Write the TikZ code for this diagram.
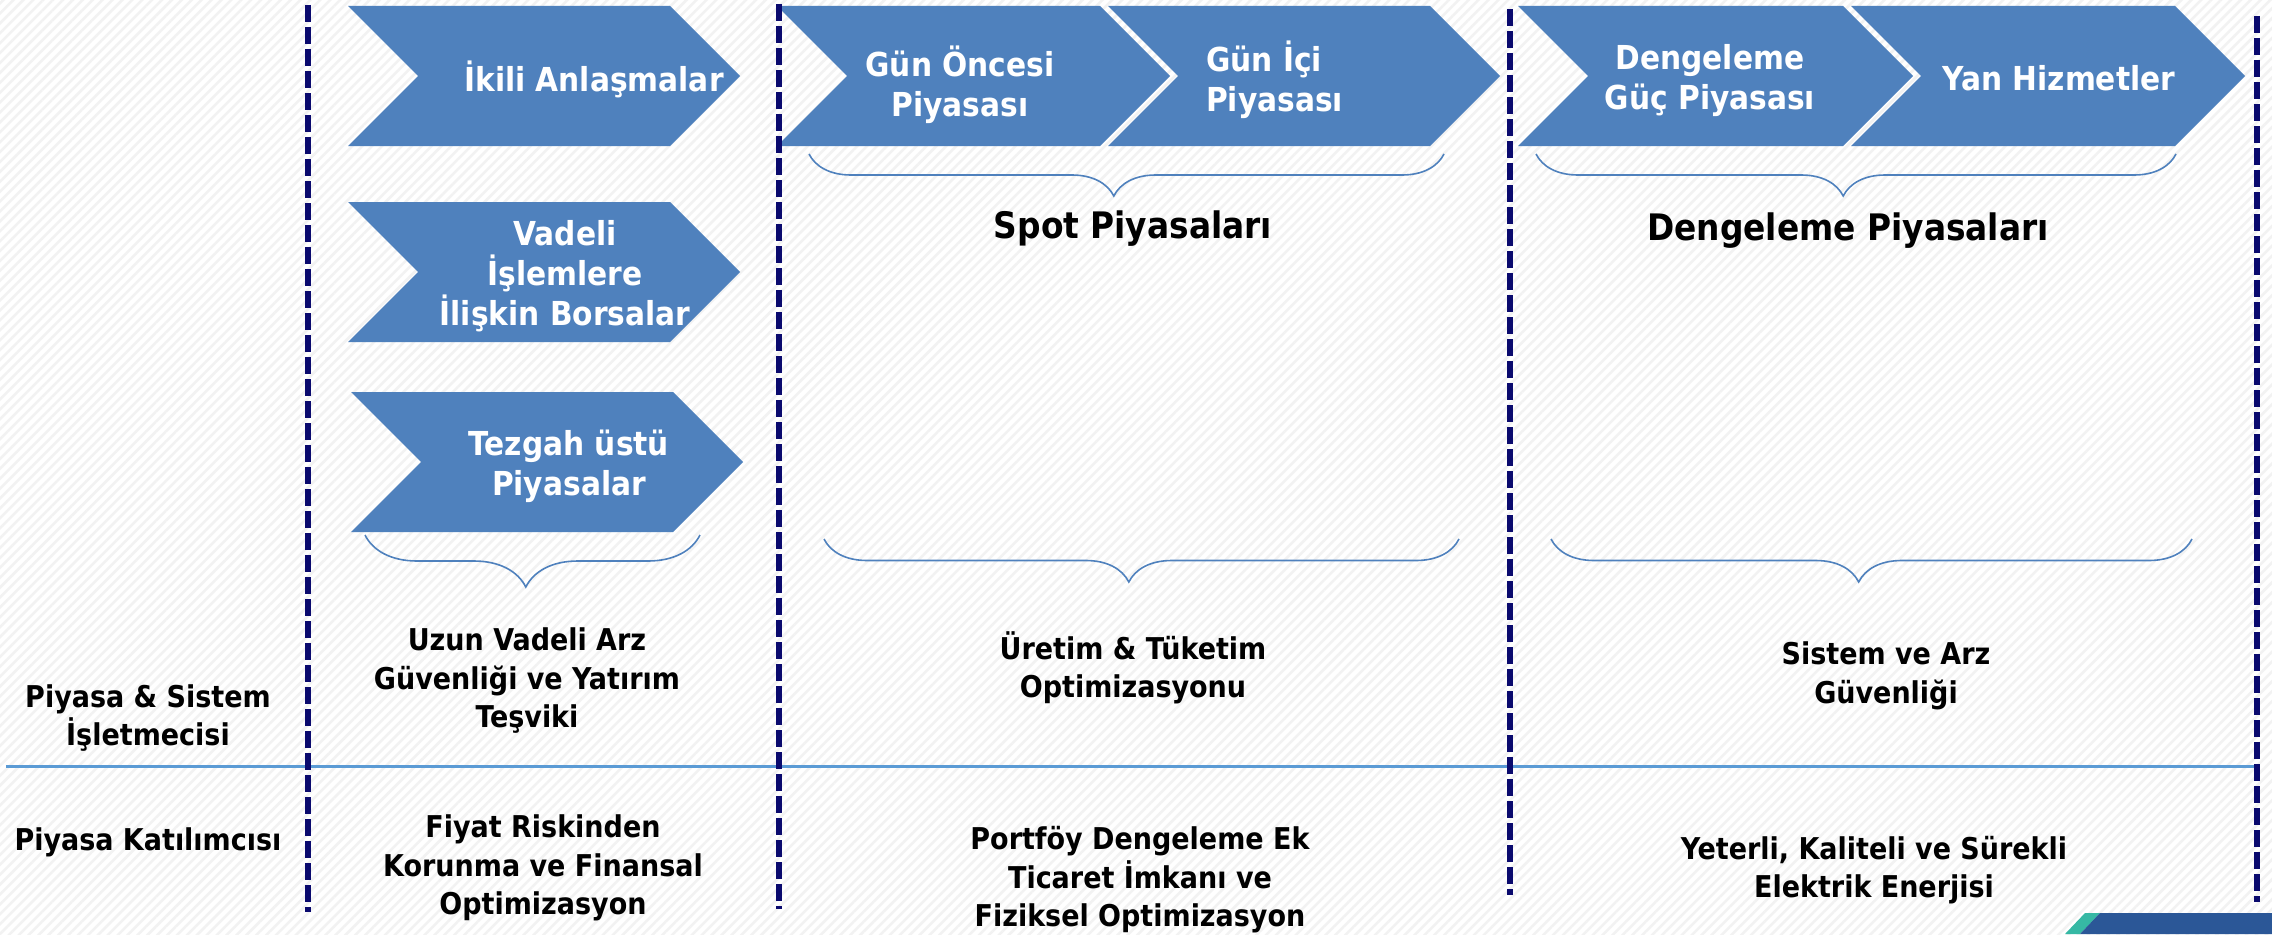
\documentclass[tikz,border=0pt]{standalone}
\usepackage{fontspec}
\setmainfont{DejaVu Sans Condensed}
\usetikzlibrary{decorations.pathreplacing,patterns.meta}

\definecolor{chevblue}{HTML}{4F81BD}
\definecolor{navyline}{HTML}{0A0A6E}
\definecolor{rowline}{HTML}{5B9BD5}
\definecolor{cornerteal}{HTML}{36B8A4}
\definecolor{cornerblue}{HTML}{2B5797}

\tikzset{
  chev/.style={fill=chevblue},
  chevtext/.style={text=white, font=\bfseries\fontsize{33}{40}\selectfont, align=center, inner sep=0pt},
  goaltext/.style={font=\bfseries\fontsize{30}{38.5}\selectfont, align=center, inner sep=0pt},
  headtext/.style={font=\bfseries\fontsize{36.5}{44}\selectfont, inner sep=0pt},
  divider/.style={navyline, line width=6pt, dash pattern=on 17pt off 5pt},
  curly/.style={draw=chevblue, line width=1.6pt, decorate, decoration={brace, mirror, amplitude=#1, aspect=0.48}},
}

\begin{document}
\begin{tikzpicture}[x=1pt, y=-1pt]
\useasboundingbox (0,0) rectangle (2272,934);
\fill[white] (0,0) rectangle (2272,934);
\pattern[pattern={Lines[angle=45, distance=7pt, line width=2.5pt]}, pattern color=black!5] (0,0) rectangle (2272,934);

\fill[chev] (348,6) -- ++(322,0) -- ++(70,70) -- ++(-70,70) -- ++(-322,0) -- ++(70,-70) -- cycle;
\fill[chev] (348,202) -- ++(322,0) -- ++(70,70) -- ++(-70,70) -- ++(-322,0) -- ++(70,-70) -- cycle;
\fill[chev] (351,392) -- ++(322,0) -- ++(70,70) -- ++(-70,70) -- ++(-322,0) -- ++(70,-70) -- cycle;
\fill[chev] (777,6) -- ++(323,0) -- ++(70,70) -- ++(-70,70) -- ++(-323,0) -- ++(70,-70) -- cycle;
\fill[chev] (1108,6) -- ++(322,0) -- ++(70,70) -- ++(-70,70) -- ++(-322,0) -- ++(70,-70) -- cycle;
\fill[chev] (1518,6) -- ++(325,0) -- ++(70,70) -- ++(-70,70) -- ++(-325,0) -- ++(70,-70) -- cycle;
\fill[chev] (1851,6) -- ++(324,0) -- ++(70,70) -- ++(-70,70) -- ++(-324,0) -- ++(70,-70) -- cycle;

\node[chevtext] (ikili) at (594,79) {İkili Anlaşmalar};
\node[chevtext] (vadeli) at (565,276) {Vadeli\\İşlemlere\\İlişkin Borsalar};
\node[chevtext] (tezgah) at (569,466) {Tezgah üstü\\Piyasalar};
\node[chevtext] (gunoncesi) at (960,85) {Gün Öncesi\\Piyasası};
\node[chevtext, align=left, anchor=west] (gunici) at (1206,80) {Gün İçi\\Piyasası};
\node[chevtext] (dengguc) at (1710,81) {Dengeleme\\Güç Piyasası};
\node[chevtext] (yan) at (2059,78) {Yan Hizmetler};

\draw[curly=42] (809,154) -- (1444,154);
\draw[curly=42] (1536,154) -- (2176,154);
\draw[curly=52] (365,535) -- (700,535);
\draw[curly=43] (824,539) -- (1459,539);
\draw[curly=43] (1551,539) -- (2192,539);

\node[headtext] (spot) at (1133,229) {Spot Piyasaları};
\node[headtext] (dengeleme) at (1848,231) {Dengeleme Piyasaları};

\node[goaltext] (uzun) at (527,681) {Uzun Vadeli Arz\\Güvenliği ve Yatırım\\Teşviki};
\node[goaltext] (uretim) at (1133,668) {Üretim \& Tüketim\\Optimizasyonu};
\node[goaltext] (sistem) at (1886,676) {Sistem ve Arz\\Güvenliği};
\node[goaltext] (operator) at (148,718) {Piyasa \& Sistem\\İşletmecisi};

\node[goaltext] (katilimci) at (148,842) {Piyasa Katılımcısı};
\node[goaltext] (fiyat) at (543,868) {Fiyat Riskinden\\Korunma ve Finansal\\Optimizasyon};
\node[goaltext] (portfoy) at (1140,880) {Portföy Dengeleme Ek\\Ticaret İmkanı ve\\Fiziksel Optimizasyon};
\node[goaltext] (yeterli) at (1874,870) {Yeterli, Kaliteli ve Sürekli\\Elektrik Enerjisi};

\draw[rowline, line width=3pt] (6,766) -- (2257,766);

\draw[divider] (308,5) -- (308,912);
\draw[divider] (779,4) -- (779,909);
\draw[divider] (1510,9) -- (1510,895);
\draw[divider] (2257,16) -- (2257,902);

\fill[cornerteal] (2085,913) -- (2100,913) -- (2080,934) -- (2065,934) -- cycle;
\fill[cornerblue] (2100,913) -- (2272,913) -- (2272,934) -- (2080,934) -- cycle;
\end{tikzpicture}
\end{document}
